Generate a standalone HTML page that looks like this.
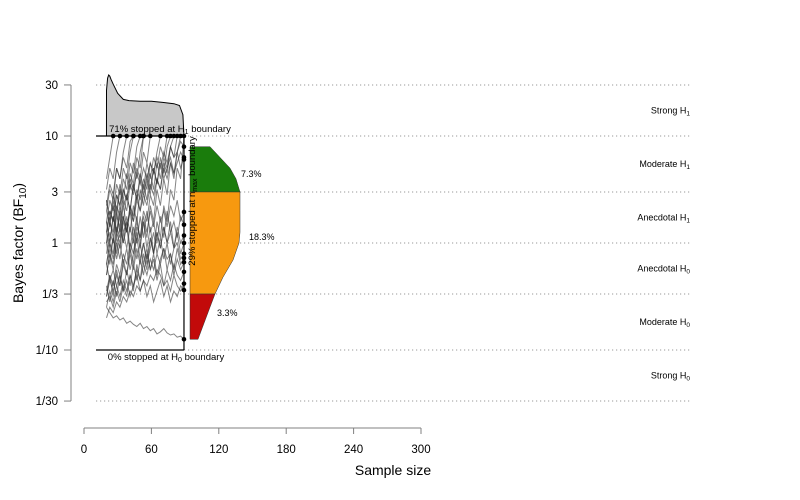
<!DOCTYPE html>
<html><head><meta charset="utf-8">
<style>
body{margin:0;background:#fff;}
svg{display:block;font-family:"Liberation Sans",Arial,sans-serif;}
</style></head>
<body>
<svg id="chart" width="800" height="500" viewBox="0 0 800 500" xmlns="http://www.w3.org/2000/svg">
<g id="grid"></g>
<g id="axes"></g>
<g id="topdens"></g>
<g id="traj"></g>
<g id="rightdens"></g>
<g id="ann"></g>
</svg>
<script>
const yTickVals=[30,10,3,1,1/3,1/10,1/30];
const yTickLabels=["30","10","3","1","1/3","1/10","1/30"];
const xTickVals=[0,60,120,180,240,300];
const evidenceLabels=["Strong H","Moderate H","Anecdotal H","Anecdotal H","Moderate H","Strong H"];
const evidenceSubs=["1","1","1","0","0","0"];
const trajN=[20,23,26,29,32,35,38,41,44,47,50,53,56,59,62,65,68,71,74,77,80,83,86,89];
const trajectories=[
[0.1,0.3,0.2,0.45,0.35,0.5,0.4,0.6,0.5,0.65,0.55,0.7,0.6,0.75,0.65,0.8,0.7,0.85,0.75,0.9,0.8,0.85,0.95,0.9],
[-0.2,0.0,-0.1,0.15,0.05,0.25,0.1,0.3,0.2,0.4,0.3,0.45,0.35,0.55,0.45,0.6,0.5,0.7,0.6,0.75,0.65,0.85,0.7,0.8],
[0.3,0.15,0.4,0.25,0.5,0.35,0.45,0.3,0.55,0.4,0.6,0.45,0.65,0.5,0.7,0.55,0.75,0.6,0.7,0.8,0.65,0.75,0.85,0.78],
[-0.3,-0.1,-0.25,0.0,-0.15,0.1,-0.05,0.15,0.0,0.2,0.05,0.25,0.1,0.3,0.15,0.35,0.2,0.3,0.15,0.35,0.25,0.4,0.2,0.29],
[0.2,0.0,0.25,0.05,0.3,0.1,0.2,-0.05,0.15,0.0,0.25,0.05,0.3,0.1,0.2,0.0,0.25,0.05,0.3,0.1,0.2,0.05,0.25,0.17],
[-0.5,-0.35,-0.45,-0.3,-0.4,-0.2,-0.3,-0.1,-0.25,-0.05,-0.2,0.0,-0.15,0.05,-0.1,0.1,-0.05,0.15,0.0,0.1,-0.05,0.15,0.0,0.07],
[0.0,0.2,0.05,0.3,0.1,0.35,0.15,0.3,0.05,0.25,0.0,0.2,-0.05,0.15,-0.1,0.1,-0.05,0.15,0.0,0.2,-0.05,0.1,-0.1,0.0],
[-0.6,-0.45,-0.55,-0.4,-0.5,-0.35,-0.45,-0.3,-0.4,-0.25,-0.35,-0.2,-0.3,-0.15,-0.25,-0.1,-0.2,-0.05,-0.15,-0.1,-0.25,-0.05,-0.2,-0.14],
[0.4,0.2,0.35,0.1,0.25,0.0,0.15,-0.1,0.05,-0.15,0.0,-0.2,-0.05,-0.25,-0.1,-0.3,-0.15,-0.05,-0.25,-0.1,-0.3,-0.15,-0.25,-0.18],
[-0.4,-0.55,-0.35,-0.5,-0.3,-0.45,-0.25,-0.4,-0.2,-0.35,-0.15,-0.3,-0.1,-0.25,-0.15,-0.35,-0.2,-0.4,-0.25,-0.35,-0.2,-0.3,-0.35,-0.27],
[-0.7,-0.6,-0.65,-0.55,-0.6,-0.5,-0.55,-0.45,-0.5,-0.4,-0.45,-0.35,-0.4,-0.3,-0.35,-0.25,-0.3,-0.4,-0.35,-0.45,-0.3,-0.4,-0.45,-0.38],
[-0.2,-0.35,-0.25,-0.4,-0.3,-0.45,-0.35,-0.5,-0.4,-0.3,-0.45,-0.35,-0.5,-0.4,-0.55,-0.45,-0.35,-0.5,-0.4,-0.55,-0.45,-0.5,-0.4,-0.44],
[-0.6,-0.65,-0.7,-0.68,-0.72,-0.7,-0.75,-0.73,-0.76,-0.78,-0.75,-0.8,-0.78,-0.82,-0.8,-0.85,-0.83,-0.8,-0.84,-0.86,-0.85,-0.88,-0.87,-0.9],
[0.1,-0.1,0.05,-0.15,0.0,-0.2,-0.05,-0.25,-0.1,0.05,-0.15,0.0,-0.2,-0.05,0.1,-0.1,0.05,-0.15,0.0,-0.2,-0.05,0.0,-0.15,-0.1],
[0.3,0.5,0.4,0.7,0.6,0.85,1.0],
[0.0,0.2,0.1,0.35,0.25,0.5,0.4,0.65,0.55,0.8,0.7,1.0],
[-0.3,-0.1,-0.2,0.05,-0.05,0.2,0.1,0.35,0.25,0.5,0.4,0.6,0.5,0.75,0.65,0.85,1.0],
[0.5,0.7,0.6,0.85,1.0],
[0.2,0.0,0.25,0.1,0.35,0.2,0.45,0.3,0.55,0.4,0.65,0.5,0.75,0.6,0.8,0.7,0.9,0.8,1.0],
[-0.5,-0.3,-0.4,-0.2,-0.3,-0.1,-0.2,0.0,-0.1,0.15,0.05,0.3,0.2,0.45,0.35,0.6,0.5,0.75,0.65,0.9,0.8,1.0],
[0.6,0.8,1.0],
[0.1,0.3,0.2,0.45,0.35,0.6,0.5,0.75,0.65,0.9,1.0],
[-0.1,0.1,0.0,0.25,0.15,0.4,0.3,0.55,0.45,0.7,0.6,0.85,0.75,1.0],
[0.4,0.2,0.45,0.3,0.55,0.4,0.65,0.5,0.75,0.6,0.85,1.0],
[-0.2,0.0,-0.15,0.1,0.0,0.25,0.1,0.35,0.2,0.45,0.3,0.55,0.4,0.65,0.5,0.75,0.6,0.8,0.7,0.9,1.0],
[0.2,0.4,0.3,0.55,0.45,0.7,0.6,0.85,1.0],
[0.0,-0.2,0.05,-0.1,0.15,0.0,0.25,0.1,0.35,0.2,0.5,0.35,0.6,0.45,0.7,0.55,0.8,0.65,0.9,1.0],
[0.35,0.55,0.45,0.7,0.6,0.8,0.7,0.95,1.0],
[-0.45,-0.3,-0.5,-0.25,-0.4,-0.15,-0.3,-0.05,-0.2,0.1,-0.05,0.2,0.05,0.35,0.2,0.5,0.35,0.6,0.45,0.75,0.6,0.85,1.0],
[-0.55,-0.5,-0.6,-0.45,-0.55,-0.4,-0.5,-0.3,-0.45,-0.2,-0.35,-0.1,-0.25,0.05,-0.1,0.2,0.05,0.35,0.2,0.5,0.4,0.7,0.6,1.0]
];
const topDensN=[20,21,22,23,24,26,30,35,40,50,60,70,80,85,88,89];
const topDensVal=[0.75,0.95,1.0,0.98,0.93,0.85,0.7,0.6,0.58,0.57,0.57,0.55,0.53,0.5,0.35,0];
const greenLog=[0.9,0.8,0.7,0.6,0.477];
const greenDens=[20,30,40,46,50];
const orangeLog=[0.477,0.3,0.1,0,-0.16,-0.32,-0.477];
const orangeDens=[50,50,50,49,43,33,25];
const redLog=[-0.477,-0.6,-0.7,-0.8,-0.9];
const redDens=[25,20,16,12,8];
const pctLabels=["7.3%","18.3%","3.3%"];

const NS="http://www.w3.org/2000/svg";
function X(n){return 84+n*(421-84)/300;}
function Y(v){return 243-107*Math.log10(v);}
function YL(l){return 243-107*l;}
function mk(tag,attrs,parent,txt){const e=document.createElementNS(NS,tag);for(const k in attrs)e.setAttribute(k,attrs[k]);if(txt!==undefined)e.textContent=txt;parent.appendChild(e);return e;}
const grid=document.getElementById('grid'),axes=document.getElementById('axes'),top_=document.getElementById('topdens'),traj=document.getElementById('traj'),rd=document.getElementById('rightdens'),ann=document.getElementById('ann');

yTickVals.forEach((v,i)=>{
  const l=mk('line',{x1:96,x2:690,y1:Y(v),y2:Y(v),stroke:'#999','stroke-dasharray':'1.2,2.8','stroke-width':1},grid);
  
  
});
evidenceLabels.forEach((s,i)=>{
  const ym=(Y(yTickVals[i])+Y(yTickVals[i+1]))/2+3;
  const t=mk('text',{x:690,y:ym,'text-anchor':'end','font-size':9,fill:'#000'},grid,s);
  mk('tspan',{'font-size':6.5,dy:2},t,evidenceSubs[i]);
  
  
});
mk('line',{x1:71,x2:71,y1:Y(30),y2:Y(1/30),stroke:'#808080'},axes);
yTickVals.forEach((v,i)=>{
  mk('line',{x1:64,x2:71,y1:Y(v),y2:Y(v),stroke:'#808080'},axes);
  const t=mk('text',{x:58,y:Y(v)+4,'text-anchor':'end','font-size':11.5,fill:'#000'},axes,yTickLabels[i]);
  
  
});
const yt=mk('text',{x:0,y:0,transform:'translate(23,243) rotate(-90)','text-anchor':'middle','font-size':14,fill:'#000'},axes,'Bayes factor (BF');
mk('tspan',{'font-size':10,dy:3},yt,'10');mk('tspan',{dy:-3},yt,')');


mk('line',{x1:X(0),x2:X(300),y1:428,y2:428,stroke:'#808080'},axes);
xTickVals.forEach(v=>{
  mk('line',{x1:X(v),x2:X(v),y1:428,y2:434,stroke:'#808080'},axes);
  const t=mk('text',{x:X(v),y:453,'text-anchor':'middle','font-size':11.5,fill:'#000'},axes,String(v));
  
  
});
const xt=mk('text',{x:393,y:475,'text-anchor':'middle','font-size':14,fill:'#000'},axes,'Sample size');



let d='M'+X(topDensN[0])+','+Y(10);
topDensN.forEach((n,i)=>{d+=' L'+X(n).toFixed(1)+','+(Y(10)-topDensVal[i]*61).toFixed(1);});
d+=' Z';
const tp=mk('path',{d:d,fill:'#c8c8c8',stroke:'#000','stroke-width':1},top_);



trajectories.forEach((tr,i)=>{
  const pts=tr.map((l,j)=>X(trajN[j]).toFixed(1)+','+YL(l).toFixed(1)).join(' ');
  const p=mk('polyline',{points:pts,fill:'none',stroke:'rgba(50,50,50,0.6)','stroke-width':1},traj);
  
  
});
mk('line',{x1:96,x2:X(89),y1:Y(10),y2:Y(10),stroke:'#000','stroke-width':1.2},traj);
mk('line',{x1:96,x2:X(89),y1:Y(0.1),y2:Y(0.1),stroke:'#000','stroke-width':1.2},traj);
mk('line',{x1:X(89),x2:X(89),y1:Y(10),y2:Y(0.1),stroke:'#000','stroke-width':1.2},traj);
trajectories.forEach((tr,i)=>{
  const j=tr.length-1;
  const c=mk('circle',{cx:X(trajN[j]),cy:YL(tr[j]),r:2.3,fill:'#000'},traj);
  
  
});

const bx=190;
function area(logs,dens,color,name){
  let s='M'+bx+','+YL(logs[0]);
  logs.forEach((l,i)=>{s+=' L'+(bx+dens[i]).toFixed(1)+','+YL(l).toFixed(1);});
  s+=' L'+bx+','+YL(logs[logs.length-1])+' Z';
  const p=mk('path',{d:s,fill:color,stroke:'#333','stroke-width':0.5},rd);
  
  
}
area(greenLog,greenDens,'#1a7c0c','density-moderate-h1');
area(orangeLog,orangeDens,'#f7990f','density-anecdotal');
area(redLog,redDens,'#c20a0a','density-moderate-h0');
const pp=[[241,177],[249,240],[217,316]];
pctLabels.forEach((s,i)=>{
  const t=mk('text',{x:pp[i][0],y:pp[i][1],'font-size':9,fill:'#000'},ann,s);
  
  
});
let t=mk('text',{x:170,y:132,'text-anchor':'middle','font-size':9.5,fill:'#000'},ann,'71% stopped at H');
mk('tspan',{'font-size':7,dy:2},t,'1');mk('tspan',{dy:-2},t,' boundary');


t=mk('text',{x:166,y:360,'text-anchor':'middle','font-size':9.5,fill:'#000'},ann,'0% stopped at H');
mk('tspan',{'font-size':7,dy:2},t,'0');mk('tspan',{dy:-2},t,' boundary');


t=mk('text',{x:0,y:0,transform:'translate(195,201) rotate(-90)','text-anchor':'middle','font-size':9.5,fill:'#000'},ann,'29% stopped at n');
mk('tspan',{'font-size':7,dy:2},t,'max');mk('tspan',{dy:-2},t,' boundary');


</script>
</body></html>
